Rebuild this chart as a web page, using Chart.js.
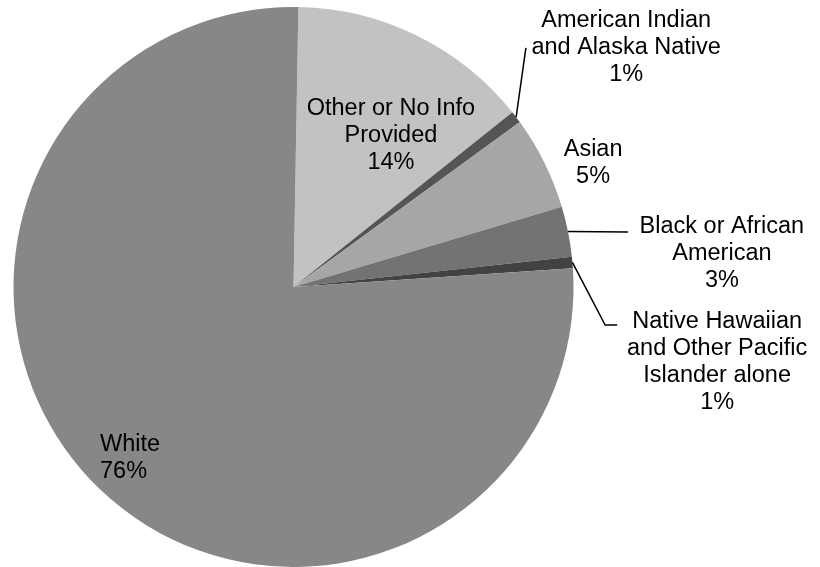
<!DOCTYPE html>
<html>
<head>
<meta charset="utf-8">
<script src="https://cdn.jsdelivr.net/npm/chart.js@4"></script>
<style>
  body { margin: 0; background: #fff; }
  #wrap { width: 820px; height: 567px; position: relative; }
</style>
</head>
<body>
<div id="wrap"><canvas id="myChart"></canvas></div>
<script>
// categories, in clockwise order from the top
var categories = [
    ['Other or No Info', 'Provided'],
    ['American Indian', 'and Alaska Native'],
    ['Asian'],
    ['Black or African', 'American'],
    ['Native Hawaiian', 'and Other Pacific', 'Islander alone'],
    ['White']
];
// share of each group (percent)
var shares = [14.0, 0.7, 5.4, 2.9, 0.65, 76.35];
var colors = ['#c2c2c2', '#555555', '#a6a6a6', '#737373', '#424242', '#878787'];

// where each label block sits, relative to the pie centre (in radius units)
var labelSpots = [
    {dx: 0.348, dy: -0.541, align: 'center'},
    {dx: 1.188, dy: -0.854, align: 'center'},
    {dx: 1.070, dy: -0.443, align: 'center'},
    {dx: 1.530, dy: -0.121, align: 'center'},
    {dx: 1.513, dy: 0.268, align: 'center'},
    {dx: -0.691, dy: 0.611, align: 'left'}
];
// leader lines: extra points after the slice edge (radius units), null = none
var leaders = [
    null,
    [[0.830, -0.854]],
    null,
    [[1.195, -0.196]],
    [[1.113, 0.136], [1.156, 0.136]],
    null
];

var total = shares.reduce(function (a, b) { return a + b; }, 0);

//plugin that writes the labels and leader lines
var labelPlugin = {
    id: 'pieLabels',
    afterDraw: function (chart) {
        var ctx = chart.ctx;
        var arcs = chart.getDatasetMeta(0).data;
        ctx.save();
        ctx.font = '23.5px "Liberation Sans", Arial, sans-serif';
        ctx.fillStyle = '#000';
        ctx.textBaseline = 'middle';
        arcs.forEach(function (arc, i) {
            var r = arc.outerRadius;
            var cx = arc.x, cy = arc.y;
            var mid = (arc.startAngle + arc.endAngle) / 2;
            if (leaders[i]) {
                ctx.beginPath();
                ctx.strokeStyle = '#000';
                ctx.lineWidth = 1.5;
                ctx.moveTo(cx + r * Math.cos(mid), cy + r * Math.sin(mid));
                leaders[i].forEach(function (p) {
                    ctx.lineTo(cx + r * p[0], cy + r * p[1]);
                });
                ctx.stroke();
            }
            var lines = categories[i].concat([Math.round(shares[i] / total * 100) + '%']);
            var lh = 27;
            var x = cx + r * labelSpots[i].dx;
            var y0 = cy + r * labelSpots[i].dy - (lines.length - 1) * lh / 2;
            ctx.textAlign = labelSpots[i].align;
            lines.forEach(function (t, k) {
                ctx.fillText(t, x, y0 + k * lh);
            });
        });
        ctx.restore();
    }
};

var ctx = document.getElementById('myChart').getContext('2d');
var myChart = new Chart(ctx, {
    type: 'pie',
    data: {
        labels: categories.map(function (c) { return c.join(' '); }),
        datasets: [{
            data: shares,
            backgroundColor: colors,
            borderWidth: 0
        }]
    },
    options: {
        responsive: true,
        maintainAspectRatio: false,
        animation: false,
        rotation: 1,
        layout: {
            padding: {left: 13, right: 246, top: 7, bottom: 0}
        },
        plugins: {
            legend: {display: false},
            tooltip: {enabled: false}
        }
    },
    plugins: [labelPlugin]
});
</script>
</body>
</html>
